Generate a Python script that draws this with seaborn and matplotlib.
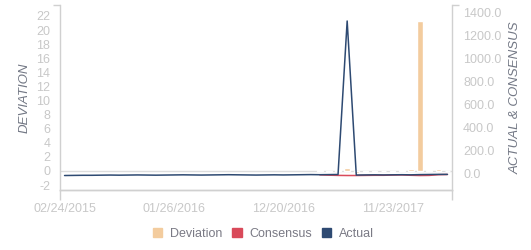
import numpy as np
import pandas as pd
import matplotlib
matplotlib.use("Agg")
import matplotlib.pyplot as plt
from matplotlib.patches import Patch
import seaborn as sns

# ---------------- data ----------------
dates = [
    "02/24/2015", "03/24/2015", "04/21/2015", "05/19/2015", "06/16/2015",
    "07/14/2015", "08/11/2015", "09/08/2015", "10/06/2015", "11/03/2015",
    "12/01/2015", "12/29/2015", "01/26/2016", "02/23/2016", "03/22/2016",
    "04/19/2016", "05/17/2016", "06/14/2016", "07/12/2016", "08/09/2016",
    "09/06/2016", "10/04/2016", "11/01/2016", "11/29/2016", "12/20/2016",
    "01/17/2017", "02/14/2017", "03/14/2017", "04/11/2017", "05/09/2017",
    "06/06/2017", "07/04/2017", "08/01/2017", "08/29/2017", "09/26/2017",
    "10/24/2017", "11/23/2017", "12/19/2017", "01/16/2018", "02/13/2018",
    "03/13/2018", "04/10/2018", "05/08/2018",
]
actual = [
    -22, -21, -20, -20, -19, -18, -19, -18, -17, -18,
    -19, -18, -17, -16, -17, -18, -17, -16, -15, -16,
    -17, -18, -17, -16, -17, -16, -15, -14, -15, -14,
    -13, 1330, -18, -17, -16, -17, -16, -15, -16, -14,
    -13, -12, -12,
]
consensus = [np.nan] * 28 + [
    -16, -19, -21, -22, -22, -21, -20, -20, -18, -17,
    -20, -22, -21, -15, -13,
]
deviation = [np.nan] * 28 + [
    0.1, -0.2, 0.1, 0.4, -0.3, -0.2, -0.1, 0.05, -0.2, 0.1,
    0.3, 21.3, 0.1, 0.35, 0.05,
]
tick_labels = ["02/24/2015", "01/26/2016", "12/20/2016", "11/23/2017"]
left_ticks = list(range(-2, 23, 2))
right_ticks = list(range(0, 1401, 200))

# ---------------- style ----------------
c_dev = "#f3cc9e"
c_cons = "#d94a5a"
c_act = "#2e4a72"
c_tick = "#c8c8c8"
c_spine = "#d0d0d0"
c_label = "#737885"

sns.set_theme(style="white")
plt.rcParams["font.family"] = ["Liberation Sans", "DejaVu Sans"]

df = pd.DataFrame({
    "date": dates,
    "idx": np.arange(len(dates)),
    "actual": actual,
    "consensus": consensus,
    "deviation": deviation,
})

fig = plt.figure(figsize=(5.31, 2.5), dpi=100)
ax = fig.add_axes([60 / 531, 1 - 190 / 250, 392 / 531, 185 / 250])
ax2 = ax.twinx()

ax.axhline(0, color="#dddddd", lw=1, zorder=0)
sns.barplot(data=df, x="date", y="deviation", order=dates, color=c_dev,
            width=0.6, ax=ax, saturation=1, zorder=2)

sns.lineplot(data=df, x="idx", y="consensus", color=c_cons, lw=1.1, ax=ax2)
sns.lineplot(data=df, x="idx", y="actual", color=c_act, lw=1.1, ax=ax2)

ylo, yhi = -2.70, 23.55
y2lo, y2hi = -148.75, 1470
ax.set_xlim(-0.5, len(dates) - 0.5)
ax.set_ylim(ylo, yhi)
ax2.set_ylim(y2lo, y2hi)

tick_pos = [dates.index(t) for t in tick_labels]
ax.set_xticks(tick_pos)
ax.set_xticklabels(tick_labels)
ax.set_yticks(left_ticks)
ax.set_yticklabels([str(v) for v in left_ticks])
ax2.set_yticks(right_ticks)
ax2.set_yticklabels([f"{v:.1f}" for v in right_ticks])

for a in (ax, ax2):
    a.tick_params(axis="both", which="major", length=0, labelsize=9, labelcolor=c_tick)
    a.grid(False)
    for s in a.spines.values():
        s.set_color(c_spine)
        s.set_linewidth(1)
    a.spines["top"].set_visible(False)
ax.tick_params(axis="y", pad=7)
ax.tick_params(axis="x", pad=9)
ax2.tick_params(axis="y", pad=8)
ax.spines["right"].set_visible(False)
ax2.spines["left"].set_visible(False)

# small end ticks on the axis lines
ax.set_yticks([yhi], minor=True)
ax.tick_params(axis="y", which="minor", left=True, length=5, width=1,
               color=c_spine, direction="out")
ax.set_xticks([-0.5, len(dates) - 0.5], minor=True)
ax.tick_params(axis="x", which="minor", bottom=True, length=7, width=1,
               color=c_spine, direction="out")
ax2.set_yticks([y2hi], minor=True)
ax2.tick_params(axis="y", which="minor", right=True, length=5, width=1,
                color=c_spine, direction="out")

ax.set_xlabel("")
ax.set_ylabel("DEVIATION", fontsize=9.5, style="italic", color=c_label, va="center")
ax.yaxis.set_label_coords(-35 / 392, 0.5)
ax2.set_xlabel("")
ax2.set_ylabel("ACTUAL & CONSENSUS", fontsize=9.5, style="italic", color=c_label,
               va="center", rotation=90)
ax2.yaxis.set_label_coords(456 / 392, 0.5)

handles = [Patch(color=c_dev, label="Deviation"),
           Patch(color=c_cons, label="Consensus"),
           Patch(color=c_act, label="Actual")]
leg = fig.legend(handles=handles, loc="center", bbox_to_anchor=(0.496, 0.064),
                 ncol=3, frameon=False, fontsize=9, handlelength=0.75,
                 handleheight=0.75, handletextpad=0.6, columnspacing=0.8,
                 borderpad=0)
for t in leg.get_texts():
    t.set_color("#7a7a85")

fig.savefig("out.png", dpi=100)
